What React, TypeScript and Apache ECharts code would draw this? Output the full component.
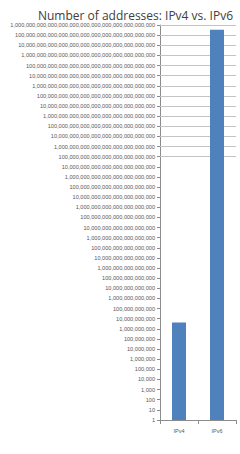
import React, { useEffect, useRef } from "react";
import * as echarts from "echarts";

const titleText = "Number of addresses: IPv4 vs. IPv6";
const categories = ["IPv4", "IPv6"];
const addressCounts = [4294967296, 3.402823669e38];
const axisMin = 1;
const axisMax = 1e39;
const gridLineExponents = [26, 27, 28, 29, 30, 31, 32, 33, 34, 35, 36, 37, 38, 39];

function formatPow10(v: number): string {
  const e = Math.round(Math.log10(v));
  const digits = "1" + "0".repeat(Math.max(0, e));
  let out = "";
  for (let i = 0; i < digits.length; i++) {
    const fromRight = digits.length - i;
    out += digits[i];
    if (fromRight > 1 && (fromRight - 1) % 3 === 0) out += ",";
  }
  return out;
}

export default function App() {
  const ref = useRef<HTMLDivElement>(null);
  useEffect(() => {
    if (!ref.current) return;
    const chart = echarts.init(ref.current, null, { renderer: "svg" });
    chart.setOption({
      animation: false,
      backgroundColor: "#ffffff",
      title: {
        text: titleText,
        right: 2,
        top: 4,
        textStyle: {
          fontSize: 12,
          fontWeight: "normal",
          color: "#404040",
          fontFamily: "Open Sans",
        },
      },
      grid: { left: 160, right: 4, top: 25, bottom: 34, containLabel: false },
      xAxis: {
        type: "category",
        data: categories,
        axisLine: { show: true, lineStyle: { color: "#8c8c8c", width: 1 } },
        axisTick: { show: true, length: 4, lineStyle: { color: "#8c8c8c" } },
        axisLabel: { fontSize: 5.5, color: "#595959", margin: 8, fontFamily: "Liberation Sans" },
        splitLine: { show: false },
      },
      yAxis: {
        type: "log",
        logBase: 10,
        min: axisMin,
        max: axisMax,
        interval: 1,
        axisLine: { show: true, lineStyle: { color: "#8c8c8c", width: 1 } },
        axisTick: { show: true, length: 3, lineStyle: { color: "#8c8c8c" } },
        axisLabel: {
          fontSize: 5.6,
          color: "#595959",
          margin: 5,
          fontFamily: "Liberation Sans",
          formatter: (v: number) => formatPow10(v),
        },
        splitLine: { show: false },
      },
      series: [
        {
          type: "bar",
          data: addressCounts,
          barWidth: 14,
          z: 3,
          itemStyle: { color: "#4f81bd" },
          markLine: {
            silent: true,
            z: 1,
            symbol: "none",
            label: { show: false },
            lineStyle: { color: "#c4c4c4", width: 1, type: "solid" },
            data: gridLineExponents.map((e) => ({ yAxis: Math.pow(10, e) })),
          },
        },
      ],
    });
    return () => chart.dispose();
  }, []);
  return (
    <div
      ref={ref}
      style={{ position: "fixed", left: 0, top: 0, width: 240, height: 454 }}
    />
  );
}
